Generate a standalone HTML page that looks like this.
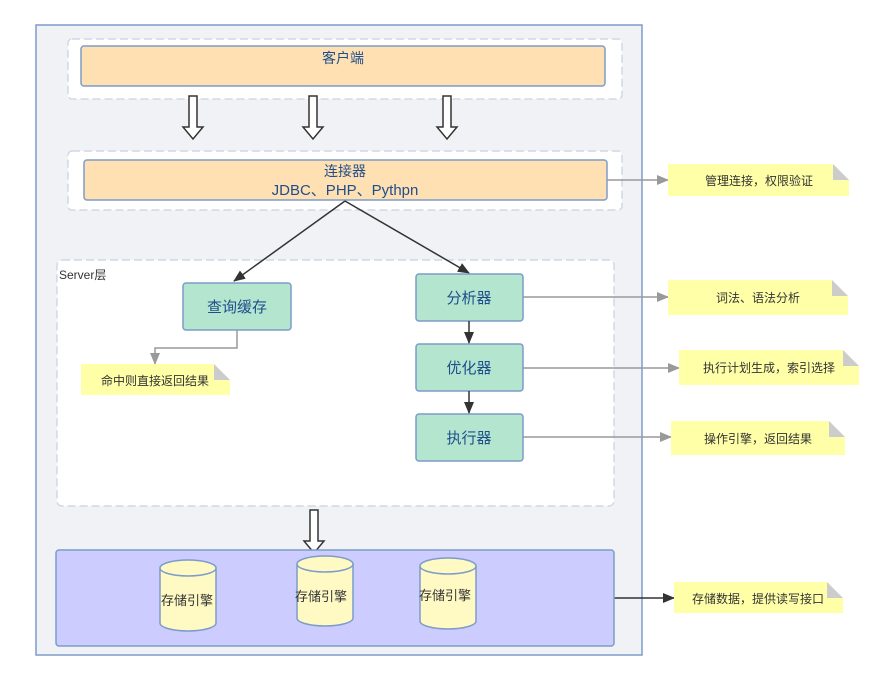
<!DOCTYPE html>
<html><head><meta charset="utf-8"><style>
html,body{margin:0;padding:0;background:#fff;}
svg text{font-family:"Liberation Sans","Noto Sans CJK SC",sans-serif;}
</style></head><body>
<svg width="884" height="680" viewBox="0 0 884 680" xmlns="http://www.w3.org/2000/svg">
<defs>
<marker id="ag" markerWidth="12" markerHeight="10" refX="11" refY="5" orient="auto" markerUnits="userSpaceOnUse"><path d="M0,0 L12,5 L0,10 Z" fill="#999"/></marker>
<marker id="ad" markerWidth="12" markerHeight="10" refX="11" refY="5" orient="auto" markerUnits="userSpaceOnUse"><path d="M0,0 L12,5 L0,10 Z" fill="#333"/></marker>
<g id="barrow"><path d="M-4,0 L4,0 L4,31 L10,31 L0,43 L-10,31 L-4,31 Z" fill="#fff" stroke="#333" stroke-width="1.5"/></g>
</defs>
<rect x="36" y="25" width="606" height="630" fill="#f1f2f6" stroke="#7c9cc9" stroke-width="1.5"/>
<rect x="68" y="39" width="554" height="60" rx="4" fill="#fff" stroke="#d0d7e5" stroke-dasharray="8,4" stroke-width="1.5"/>
<rect x="81" y="46" width="524" height="40" rx="3" fill="#ffe0b2" stroke="#7c9cc9" stroke-width="1.5"/>
<text x="343" y="63" font-size="14" fill="#1f4e8c" text-anchor="middle">客户端</text>
<use href="#barrow" x="193" y="96"/><use href="#barrow" x="313" y="96"/><use href="#barrow" x="447" y="96"/>
<rect x="68" y="151" width="554" height="59" rx="4" fill="#fff" stroke="#d0d7e5" stroke-dasharray="8,4" stroke-width="1.5"/>
<rect x="84" y="160" width="523" height="40" rx="3" fill="#ffe0b2" stroke="#7c9cc9" stroke-width="1.5"/>
<text x="345" y="176" font-size="14" fill="#1f4e8c" text-anchor="middle">连接器</text>
<text x="345" y="195" font-size="15" fill="#1f4e8c" text-anchor="middle">JDBC、PHP、Pythpn</text>
<rect x="57" y="260" width="557" height="246" rx="5" fill="#fff" stroke="#d0d7e5" stroke-dasharray="8,4" stroke-width="1.5"/>
<text x="59" y="279" font-size="12" fill="#333">Server层</text>
<line x1="345" y1="201" x2="234" y2="281" stroke="#333" stroke-width="1.5" marker-end="url(#ad)"/>
<line x1="345" y1="201" x2="469" y2="273" stroke="#333" stroke-width="1.5" marker-end="url(#ad)"/>
<g fill="#b4e6cf" stroke="#7c9cc9" stroke-width="1.5">
<rect x="183" y="283" width="108" height="47" rx="3"/>
<rect x="416" y="274" width="107" height="47" rx="3"/>
<rect x="416" y="344" width="107" height="47" rx="3"/>
<rect x="416" y="414" width="107" height="47" rx="3"/>
</g>
<g font-size="15" fill="#1f4e8c" text-anchor="middle">
<text x="237" y="312">查询缓存</text>
<text x="469" y="303">分析器</text>
<text x="469" y="373">优化器</text>
<text x="469" y="443">执行器</text>
</g>
<line x1="469" y1="321" x2="469" y2="343" stroke="#333" stroke-width="1.5" marker-end="url(#ad)"/>
<line x1="469" y1="391" x2="469" y2="413" stroke="#333" stroke-width="1.5" marker-end="url(#ad)"/>
<polyline points="237,330 237,348 155,348 155,364" fill="none" stroke="#999" stroke-width="1.5" marker-end="url(#ag)"/>
<g stroke="#999" stroke-width="1.5">
<line x1="607" y1="180" x2="668" y2="180" marker-end="url(#ag)"/>
<line x1="523" y1="297" x2="668" y2="297" marker-end="url(#ag)"/>
<line x1="523" y1="368" x2="679" y2="368" marker-end="url(#ag)"/>
<line x1="523" y1="437" x2="671" y2="437" marker-end="url(#ag)"/>
</g>
<line x1="614" y1="598" x2="674" y2="598" stroke="#333" stroke-width="1.5" marker-end="url(#ad)"/>
<use href="#barrow" x="314" y="510"/>
<rect x="56" y="550" width="558" height="96" rx="3" fill="#ccccff" stroke="#7c9cc9" stroke-width="1.5"/>
<g fill="#fff9c4" stroke="#7c9cc9" stroke-width="1.5">
<path d="M160,568 L160,623 A28,8 0 0 0 216,623 L216,568"/><ellipse cx="188" cy="568" rx="28" ry="8"/>
<path d="M297,564 L297,618 A28,8 0 0 0 353,618 L353,564"/><ellipse cx="325" cy="564" rx="28" ry="8"/>
<path d="M420,566 L420,621 A28,8 0 0 0 476,621 L476,566"/><ellipse cx="448" cy="566" rx="28" ry="8"/>
</g>
<g font-size="13" fill="#333" text-anchor="middle">
<text x="187" y="605">存储引擎</text>
<text x="321" y="601">存储引擎</text>
<text x="445" y="600">存储引擎</text>
</g>
<g font-size="12" fill="#333">
<path d="M668,164 L833,164 L849,180 L849,196 L668,196 Z" fill="#ffffa8"/><path d="M833,164 L849,180 L833,180 Z" fill="#ccc"/>
<text x="759" y="185" text-anchor="middle">管理连接，权限验证</text>
<path d="M668,280 L832,280 L848,296 L848,315 L668,315 Z" fill="#ffffa8"/><path d="M832,280 L848,296 L832,296 Z" fill="#ccc"/>
<text x="758" y="302" text-anchor="middle">词法、语法分析</text>
<path d="M679,350 L843,350 L859,366 L859,385 L679,385 Z" fill="#ffffa8"/><path d="M843,350 L859,366 L843,366 Z" fill="#ccc"/>
<text x="769" y="372" text-anchor="middle">执行计划生成，索引选择</text>
<path d="M671,421 L829,421 L845,437 L845,455 L671,455 Z" fill="#ffffa8"/><path d="M829,421 L845,437 L829,437 Z" fill="#ccc"/>
<text x="758" y="443" text-anchor="middle">操作引擎，返回结果</text>
<path d="M674,582 L827,582 L843,598 L843,613 L674,613 Z" fill="#ffffa8"/><path d="M827,582 L843,598 L827,598 Z" fill="#ccc"/>
<text x="758" y="603" text-anchor="middle">存储数据，提供读写接口</text>
<path d="M81,364 L214,364 L230,380 L230,395 L81,395 Z" fill="#ffffa8"/><path d="M214,364 L230,380 L214,380 Z" fill="#ccc"/>
<text x="155" y="385" text-anchor="middle">命中则直接返回结果</text>
</g>
</svg>
</body></html>
